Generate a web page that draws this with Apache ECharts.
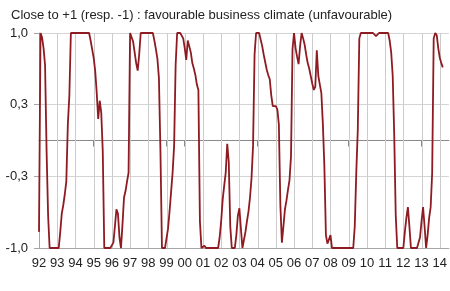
<!DOCTYPE html>
<html>
<head>
<meta charset="utf-8">
<script src="https://cdn.jsdelivr.net/npm/echarts@6/dist/echarts.min.js"></script>
<style>
html,body{margin:0;padding:0;background:#fff;}
#chart{width:450px;height:291px;}
</style>
</head>
<body>
<div id="chart"></div>
<script>
// Monthly values, one array per year (Jan..Dec)
var y1992 = [-0.85, 1, 0.96, 0.86, 0.7, -0.1, -0.7, -1, -1, -1, -1, -1];
var y1993 = [-1, -1, -0.85, -0.68, -0.6, -0.5, -0.38, 0.15, 0.42, 1, 1, 1];
var y1994 = [1, 1, 1, 1, 1, 1, 1, 1, 1, 1, 0.93, 0.85];
var y1995 = [0.77, 0.65, 0.45, 0.2, 0.37, 0.26, -0.1, -1, -1, -1, -1, -1];
var y1996 = [-1, -0.95, -0.8, -0.64, -0.68, -0.9, -1, -0.78, -0.53, -0.47, -0.38, -0.3];
var y1997 = [1, 1, 0.92, 0.82, 0.72, 0.65, 0.8, 1, 1, 1, 1, 1];
var y1998 = [1, 1, 1, 1, 0.93, 0.85, 0.76, 0.58, -0.1, -1, -1, -1];
var y1999 = [-1, -0.82, -0.66, -0.48, -0.3, -0.05, 0.7, 1, 1, 1, 1, 0.95];
var y2000 = [0.86, 0.75, 0.93, 0.93, 0.82, 0.72, 0.67, 0.61, 0.52, 0.47, -0.75, -1];
var y2001 = [-1, -0.98, -1, -1, -1, -1, -1, -1, -1, -1, -1, -0.9];
var y2002 = [-0.75, -0.55, -0.42, -0.3, -0.03, -0.2, -0.8, -1, -1, -1, -0.88, -0.7];
var y2003 = [-0.63, -0.82, -1, -1, -0.85, -0.75, -0.66, -0.53, -0.35, -0.05, 0.8, 1];
var y2004 = [1, 1, 1, 0.88, 0.8, 0.73, 0.66, 0.61, 0.57, 0.42, 0.32, 0.32];
var y2005 = [0.32, 0.29, 0.15, -0.6, -0.95, -0.8, -0.64, -0.56, -0.46, -0.37, -0.15, 0.85];
var y2006 = [1, 0.86, 0.78, 0.71, 0.88, 1, 0.95, 0.89, 0.8, 0.72, 0.67, 0.6];
var y2007 = [0.53, 0.47, 0.5, 0.84, 0.6, 0.52, 0.44, 0.15, -0.25, -0.88, -0.96, -0.97];
var y2008 = [-0.88, -1, -1, -1, -1, -1, -1, -1, -1, -1, -1, -1];
var y2009 = [-1, -1, -1, -1, -0.8, -0.3, 0.1, 0.95, 1, 1, 1, 1];
var y2010 = [1, 1, 1, 0.99, 1, 1, 0.97, 0.98, 1, 1, 1, 1];
var y2011 = [1, 1, 1, 0.93, 0.82, 0.6, 0.05, -0.7, -1, -1, -1, -1];
var y2012 = [-1, -0.85, -0.72, -0.62, -0.8, -1, -1, -1, -1, -1, -1, -0.9];
var y2013 = [-0.75, -0.62, -0.8, -1, -0.88, -0.72, -0.62, -0.3, 0.95, 1, 0.98, 0.86];
var y2014 = [0.77, 0.72, 0.68];

var yearLabels = ['92','93','94','95','96','97','98','99','00','01','02','03',
                  '04','05','06','07','08','09','10','11','12','13','14'];
var yTickValues = [-1, -1/3, 1/3, 1];
var titleText = 'Close to +1 (resp. -1) : favourable business climate (unfavourable)';

var values = [].concat(y1992, y1993, y1994, y1995, y1996, y1997, y1998, y1999,
  y2000, y2001, y2002, y2003, y2004, y2005, y2006, y2007, y2008, y2009,
  y2010, y2011, y2012, y2013, y2014);

// x = months since Jan 1992; year ticks every 12 months
var xTickValues = yearLabels.map(function (_, i) { return i * 12; });
var seriesData = values.map(function (v, i) { return [i, v]; });
var gridData = xTickValues.slice(1).map(function (v) { return [v, 0]; });

var font = 'Liberation Sans, Arial, sans-serif';
var chart = echarts.init(document.getElementById('chart'), null, {renderer: 'canvas'});
chart.setOption({
  animation: false,
  title: {
    text: titleText, left: 6, top: 4,
    textStyle: {fontFamily: font, fontSize: 13, fontWeight: 'normal', color: '#222'}
  },
  grid: {left: 39, right: 1, top: 33, bottom: 43, containLabel: false},
  xAxis: [{
    type: 'value', min: 0, max: 270, position: 'bottom',
    axisLine: {show: true, onZero: false, lineStyle: {color: '#a6a6a6', width: 1}},
    axisTick: {show: false, customValues: xTickValues},
    axisLabel: {
      customValues: xTickValues, margin: 9,
      fontFamily: font, fontSize: 13, color: '#222',
      formatter: function (v) { return yearLabels[Math.round(v / 12)]; }
    },
    splitLine: {show: false}
  }, {
    type: 'value', min: 0, max: 270, position: 'top',
    axisLine: {show: true, onZero: true, lineStyle: {color: '#8a8a8a', width: 1}},
    axisTick: {show: true, inside: true, length: 6, customValues: xTickValues, lineStyle: {color: '#8a8a8a'}},
    axisLabel: {show: false},
    splitLine: {show: false}
  }],
  yAxis: {
    type: 'value', min: -1, max: 1,
    axisLine: {show: true, lineStyle: {color: '#a6a6a6'}},
    axisTick: {show: true, length: 5, customValues: yTickValues, lineStyle: {color: '#a6a6a6'}},
    axisLabel: {
      customValues: yTickValues, margin: 11,
      fontFamily: font, fontSize: 13, color: '#222',
      formatter: function (v) { return v.toFixed(1).replace('.', ','); }
    },
    splitLine: {show: true, lineStyle: {color: '#d4d4d4', width: 1}}
  },
  series: [{
    type: 'custom', data: gridData, xAxisIndex: 0, z: 1, silent: true, clip: false,
    encode: {x: 0, y: 1},
    renderItem: function (params, api) {
      var x = api.value(0);
      var top = api.coord([x, 1]);
      var bot = api.coord([x, -1]);
      var px = Math.round(top[0]) + 0.5;
      return {
        type: 'rect',
        shape: {x: px - 0.5, y: top[1], width: 1, height: bot[1] - top[1]},
        style: {fill: '#cccccc'}
      };
    }
  }, {
    type: 'line', data: seriesData, xAxisIndex: 0, showSymbol: false, symbol: 'none',
    lineStyle: {color: '#8e1b22', width: 1.8}, z: 5
  }]
});
</script>
</body>
</html>
